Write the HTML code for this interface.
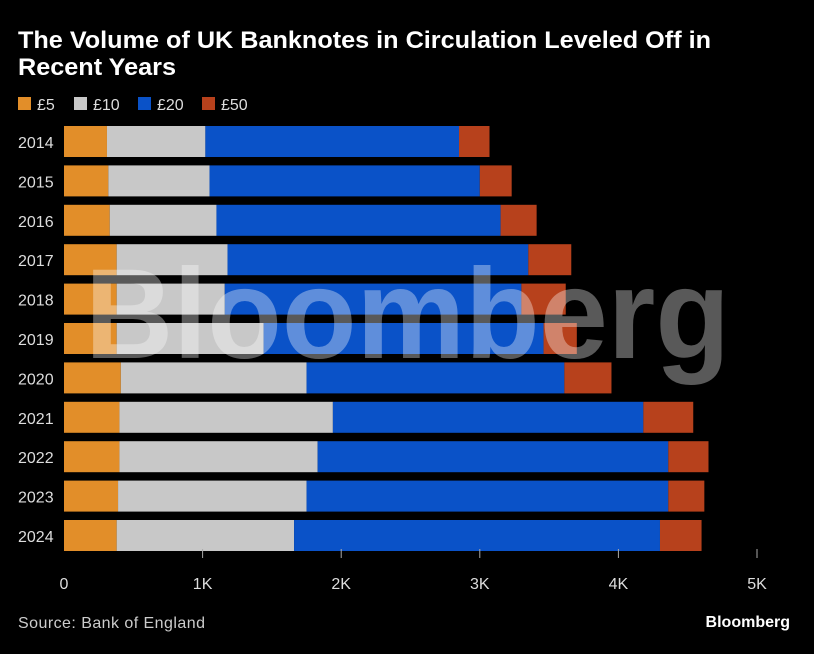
<!DOCTYPE html>
<html><head><meta charset="utf-8"><style>
body{margin:0;background:#000;width:814px;height:649px;overflow:hidden;font-family:"Liberation Sans",sans-serif;color:#fff}
</style></head><body>
<svg width="814" height="649" xmlns="http://www.w3.org/2000/svg">
<text x="18" y="48" font-size="24" font-weight="bold" fill="#fff" textLength="693" lengthAdjust="spacingAndGlyphs">The Volume of UK Banknotes in Circulation Leveled Off in</text>
<text x="18" y="75" font-size="24" font-weight="bold" fill="#fff" textLength="158" lengthAdjust="spacingAndGlyphs">Recent Years</text>
<g id="legend"></g>
<g id="bars"></g>
<g id="axis"></g>
<text x="18" y="628" font-size="16" fill="#ccc" textLength="187">Source: Bank of England</text>
<text x="790" y="627" font-size="16" font-weight="bold" fill="#fff" text-anchor="end">Bloomberg</text>
<text x="85" y="358" font-size="128" font-weight="bold" fill="#fff" fill-opacity="0.35" textLength="645" lengthAdjust="spacingAndGlyphs">Bloomberg</text>
</svg>
<script>
const years=["2014","2015","2016","2017","2018","2019","2020","2021","2022","2023","2024"];
const s5=[0.31,0.32,0.33,0.38,0.38,0.38,0.41,0.40,0.40,0.39,0.38];
const s10=[0.71,0.73,0.77,0.80,0.78,1.06,1.34,1.54,1.43,1.36,1.28];
const s20=[1.83,1.95,2.05,2.17,2.14,2.02,1.86,2.24,2.53,2.61,2.64];
const s50=[0.22,0.23,0.26,0.31,0.32,0.24,0.34,0.36,0.29,0.26,0.30];
const ticks=[0,1,2,3,4,5];
const tickLabels=["0","1K","2K","3K","4K","5K"];
const seriesNames=["£5","£10","£20","£50"];
const colors=["#e28e29","#c8c8c8","#0a52c8","#b7411c"];
const NS="http://www.w3.org/2000/svg";
const x=v=>64+v*138.6;
const y=i=>126+i*39.4;
const bh=31;
function mk(t,a,p){const e=document.createElementNS(NS,t);for(const k in a)e.setAttribute(k,a[k]);p.appendChild(e);return e;}
const bars=document.getElementById('bars'),axis=document.getElementById('axis'),leg=document.getElementById('legend');
const series=[s5,s10,s20,s50];
years.forEach((yr,i)=>{
  let acc=0;
  series.forEach((s,j)=>{
    const r=mk('rect',{x:x(acc),y:y(i),width:x(acc+s[i])-x(acc),height:bh,fill:colors[j]},bars);
    
    
    acc+=s[i];
  });
  const t=mk('text',{x:18,y:y(i)+22,'font-size':16,fill:'#ddd'},axis);
  t.textContent=yr;
  
  
});
ticks.forEach((v,i)=>{
  if(i>0){const l=mk('line',{x1:x(v),x2:x(v),y1:549,y2:558,stroke:'#aaa','stroke-width':1},axis);
  
  }
  const t=mk('text',{x:x(v),y:589,'font-size':16,fill:'#ddd','text-anchor':'middle'},axis);
  t.textContent=tickLabels[i];
  
  
});
let lx=18;
seriesNames.forEach((n,j)=>{
  const r=mk('rect',{x:lx,y:97,width:13,height:13,fill:colors[j]},leg);
  
  
  const t=mk('text',{x:lx+19,y:110,'font-size':16,fill:'#ddd'},leg);
  t.textContent=n;
  
  
  lx+= j==0?56:64;
});
</script>
</body></html>
